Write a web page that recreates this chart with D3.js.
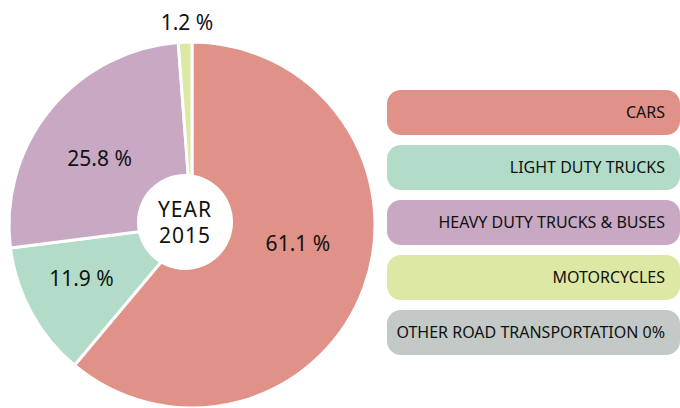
<!DOCTYPE html>
<html>
<head>
<meta charset="utf-8">
<script src="https://cdn.jsdelivr.net/npm/d3@7"></script>
<style>
  body { margin: 0; background: #fff; }
  text { font-family: "Noto Sans", sans-serif; fill: #111; }
</style>
</head>
<body>
<script>
const width = 680;
const height = 408;

// data
const categories = ["CARS", "LIGHT DUTY TRUCKS", "HEAVY DUTY TRUCKS & BUSES", "MOTORCYCLES", "OTHER ROAD TRANSPORTATION 0%"];
const shares = [61.1, 11.9, 25.8, 1.2, 0];
const colors = ["#e09188", "#b2dcc8", "#c8a8c2", "#dce8a4", "#c3c9c6"];
const centerLines = ["YEAR", "2015"];

const data = categories.map((c, i) => ({name: c, value: shares[i], color: colors[i]}));

const cx = 192, cy = 225, radius = 183;

const svg = d3.select("body").append("svg")
    .attr("width", width)
    .attr("height", height);

const pie = d3.pie()
    .sort(null)
    .value(d => d.value);

const arc = d3.arc().innerRadius(0).outerRadius(radius);
const labelArc = d3.arc().innerRadius(118).outerRadius(118);

const arcs = pie(data).filter(d => d.data.value > 0);

const g = svg.append("g").attr("transform", "translate(" + cx + "," + cy + ")");

g.selectAll("path")
  .data(arcs)
  .enter()
  .append("path")
    .attr("d", arc)
    .attr("fill", d => d.data.color)
    .attr("stroke", "#fff")
    .attr("stroke-width", 3)
    .attr("stroke-linejoin", "round");

// hand nudges so the labels sit like in the original
const nudge = {"CARS": [-5, -21], "LIGHT DUTY TRUCKS": [-7, -3], "HEAVY DUTY TRUCKS & BUSES": [-1, 9]};

g.selectAll("text.pct")
  .data(arcs)
  .enter()
  .append("text")
    .attr("class", "pct")
    .attr("text-anchor", "middle")
    .attr("font-size", 21)
    .attr("transform", d => {
      // tiny slice: label outside, above the pie
      if (d.data.value < 5) return "translate(" + (-5) + "," + (-radius - 12) + ")";
      const c = labelArc.centroid(d);
      const n = nudge[d.data.name] || [0, 0];
      return "translate(" + (c[0] + n[0]) + "," + (c[1] + n[1] + 7) + ")";
    })
    .text(d => d3.format(".1f")(d.data.value) + " %");

// centre hole
svg.append("circle")
    .attr("cx", 185)
    .attr("cy", 222)
    .attr("r", 48)
    .attr("fill", "#fff");

svg.selectAll("text.center")
  .data(centerLines)
  .enter()
  .append("text")
    .attr("class", "center")
    .attr("x", 185)
    .attr("y", (d, i) => 217 + i * 26)
    .attr("text-anchor", "middle")
    .attr("font-size", 21)
    .attr("letter-spacing", 1)
    .text(d => d);

// legend
const yLegend = d3.scaleBand()
    .domain(categories)
    .range([90, 355])
    .paddingInner(10 / 55)
    .paddingOuter(0);

const legend = svg.append("g")
  .selectAll("g")
  .data(data)
  .enter()
  .append("g")
    .attr("transform", d => "translate(387," + yLegend(d.name) + ")");

legend.append("rect")
    .attr("width", 293)
    .attr("height", yLegend.bandwidth())
    .attr("rx", 14)
    .attr("fill", d => d.color);

legend.append("text")
    .attr("x", 278)
    .attr("y", yLegend.bandwidth() / 2)
    .attr("dy", "0.36em")
    .attr("text-anchor", "end")
    .attr("font-size", 16)
    .text(d => d.name);
</script>
</body>
</html>
